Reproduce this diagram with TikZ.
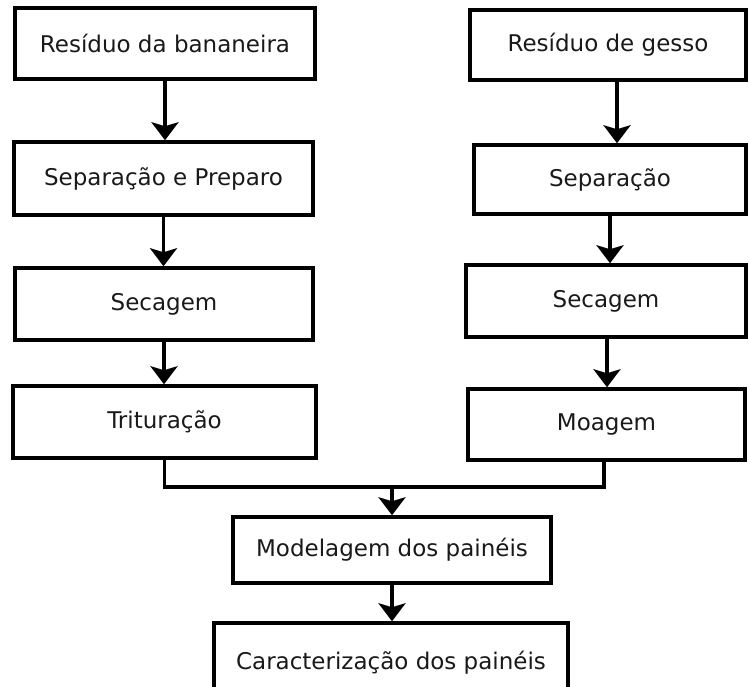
\documentclass[tikz,border=0pt]{standalone}
\usepackage{fontspec}
\setmainfont{DejaVu Sans}
\usetikzlibrary{arrows.meta}

\begin{document}
\begin{tikzpicture}[x=1pt, y=-1pt,
    etapa/.style={draw, line width=3.5pt, inner sep=0pt, text=black!90,
      font=\fontsize{23}{27}\selectfont},
    seta/.style={line width=3.5pt, -{Stealth[length=18pt, width=27pt, inset=4pt]}},
    linha/.style={line width=3.5pt}]
  \useasboundingbox (0, 0) rectangle (749, 686);
  \clip (0, 0) rectangle (749, 686);

  % residuo da bananeira
  \node[etapa, minimum width=300pt, minimum height=71pt] (ban1) at (165, 43.5) {Resíduo da bananeira};
  \node[etapa, minimum width=299pt, minimum height=73pt] (ban2) at (163.5, 178.5) {Separação e Preparo};
  \node[etapa, minimum width=298pt, minimum height=72pt] (ban3) at (164, 304) {Secagem};
  \node[etapa, minimum width=303pt, minimum height=72pt] (ban4) at (164.5, 422) {Trituração};

  % residuo de gesso
  \node[etapa, minimum width=276pt, minimum height=70pt] (ges1) at (608, 45) {Resíduo de gesso};
  \node[etapa, minimum width=272pt, minimum height=69pt] (ges2) at (610, 179.5) {Separação};
  \node[etapa, minimum width=280pt, minimum height=72pt] (ges3) at (606, 301) {Secagem};
  \node[etapa, minimum width=277pt, minimum height=71pt] (ges4) at (606.5, 424.5) {Moagem};

  \node[etapa, minimum width=318pt, minimum height=66pt] (mod) at (392, 550) {Modelagem dos painéis};
  \node[etapa, minimum width=354pt, minimum height=80pt] (car) at (391, 663) {Caracterização dos painéis};

  \draw[seta] (ban1.south) -- (ban1.south |- ban2.north);
  \draw[seta] (ban2.south) -- (ban2.south |- ban3.north);
  \draw[seta] (ban3.south) -- (ban3.south |- ban4.north);

  \draw[seta] ([xshift=9pt]ges1.south) -- ([xshift=9pt]ges1.south |- ges2.north);
  \draw[seta] (ges2.south) -- (ges2.south |- ges3.north);
  \draw[seta] ([xshift=1pt]ges3.south) -- ([xshift=1pt]ges3.south |- ges4.north);

  \coordinate (junta) at (392, 487);
  \draw[linha] (ban4.south) |- (junta) -| ([xshift=-2.5pt]ges4.south);
  \draw[seta] (junta) -- (mod.north);
  \draw[seta] (mod.south) -- (mod.south |- car.north);
\end{tikzpicture}
\end{document}
